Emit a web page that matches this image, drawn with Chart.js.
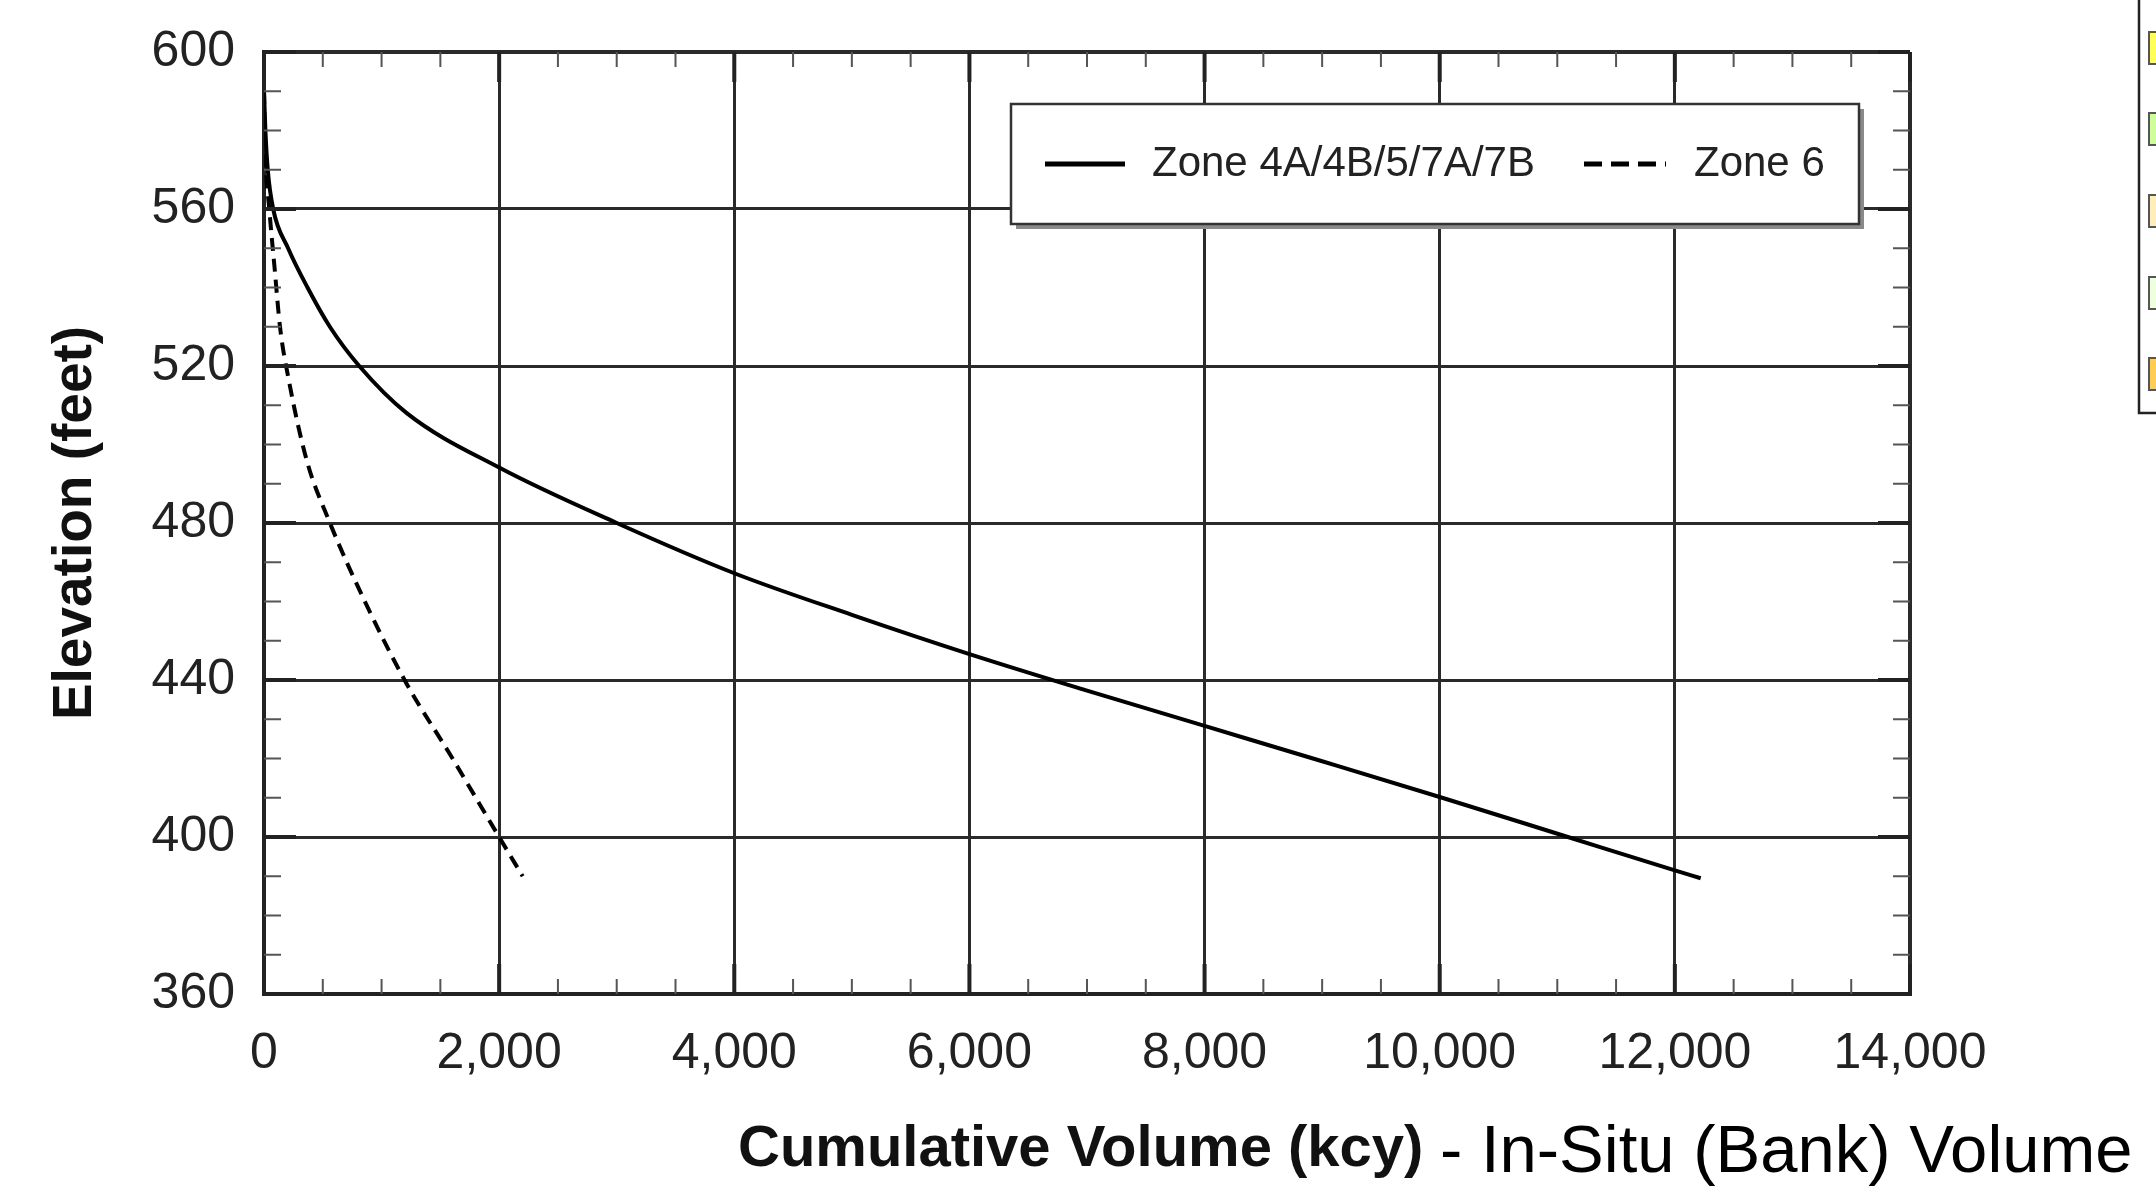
<!DOCTYPE html>
<html>
<head>
<meta charset="utf-8">
<script src="https://cdn.jsdelivr.net/npm/chart.js@4.4.1/dist/chart.umd.min.js"></script>
<style>
	body { margin: 0; background: #fff; }
	#wrap { width: 2156px; height: 1204px; }
</style>
</head>
<body>
<div id="wrap"><canvas id="chart" width="2156" height="1204"></canvas></div>
<script>
// cumulative volume (kcy) vs elevation (feet)
const zoneAVolume = [0, 12, 32, 78, 205, 370, 560, 810, 1214, 2008, 3000, 4000, 5000, 6000, 7000, 8000, 9000, 10000, 11090, 12000, 12220]
const zoneAElev = [590, 580, 570, 560, 550, 540, 530, 520, 508, 494, 480, 467.2, 456.6, 446.6, 437.3, 428.3, 419.3, 410.2, 400, 391.5, 389.5]
const zone6Volume = [0, 10, 45, 90, 136, 207, 363, 547, 874, 1214, 1583, 2000, 2200]
const zone6Elev = [590, 575, 560, 545, 530, 517, 496, 481, 459, 439, 421, 400, 390]

const seriesNames = ["Zone 4A/4B/5/7A/7B", "Zone 6"]
const xTicks = [0, 2000, 4000, 6000, 8000, 10000, 12000, 14000]
const yTicks = [360, 400, 440, 480, 520, 560, 600]
const sideColors = ["#ffff55", "#ccff99", "#ffeebb", "#eeffdd", "#ffcc55"]

const FONT = "'Liberation Sans', Arial, sans-serif"

const toPoints = (xs, ys) => xs.map((x, i) => ({x: x, y: ys[i]}))

const extras = {
	id: "extras",
	beforeDraw(chart) {
		const ctx = chart.ctx
		ctx.save()
		ctx.fillStyle = "#fff"
		ctx.fillRect(0, 0, chart.width, chart.height)
		ctx.restore()
	},
	afterDraw(chart) {
		const ctx = chart.ctx
		const xs = chart.scales.x, ys = chart.scales.y
		const a = chart.chartArea
		ctx.save()

		// minor ticks, inward on all four sides
		ctx.strokeStyle = "#555"
		ctx.lineWidth = 2
		ctx.beginPath()
		for (let v = xTicks[0]; v < xTicks[xTicks.length - 1]; v += 500) {
			if (v % 2000 == 0) continue
			const px = xs.getPixelForValue(v)
			ctx.moveTo(px, a.bottom); ctx.lineTo(px, a.bottom - 15)
			ctx.moveTo(px, a.top); ctx.lineTo(px, a.top + 15)
		}
		for (let v = yTicks[0]; v < yTicks[yTicks.length - 1]; v += 10) {
			if (v % 40 == 0) continue
			const py = ys.getPixelForValue(v)
			ctx.moveTo(a.left, py); ctx.lineTo(a.left + 17, py)
			ctx.moveTo(a.right, py); ctx.lineTo(a.right - 17, py)
		}
		ctx.stroke()

		// heavier major ticks
		ctx.strokeStyle = "#222"
		ctx.lineWidth = 4
		ctx.beginPath()
		xTicks.forEach(v => {
			const px = xs.getPixelForValue(v)
			ctx.moveTo(px, a.bottom); ctx.lineTo(px, a.bottom - 30)
			ctx.moveTo(px, a.top); ctx.lineTo(px, a.top + 30)
		})
		yTicks.forEach(v => {
			const py = ys.getPixelForValue(v)
			ctx.moveTo(a.left, py); ctx.lineTo(a.left + 32, py)
			ctx.moveTo(a.right, py); ctx.lineTo(a.right - 32, py)
		})
		ctx.stroke()

		// legend box
		const lx = 1011, ly = 104, lw = 848, lh = 120
		ctx.fillStyle = "#8a8a8a"
		ctx.fillRect(lx + 5, ly + 5, lw, lh)
		ctx.fillStyle = "#fff"
		ctx.fillRect(lx, ly, lw, lh)
		ctx.strokeStyle = "#333"
		ctx.lineWidth = 2.5
		ctx.strokeRect(lx, ly, lw, lh)

		const my = ly + lh / 2
		ctx.strokeStyle = "#000"
		ctx.lineWidth = 5
		ctx.beginPath(); ctx.moveTo(1045, my); ctx.lineTo(1125, my); ctx.stroke()
		ctx.setLineDash([18, 9])
		ctx.beginPath(); ctx.moveTo(1584, my); ctx.lineTo(1666, my); ctx.stroke()
		ctx.setLineDash([])
		ctx.fillStyle = "#222"
		ctx.font = "42px " + FONT
		ctx.textBaseline = "middle"
		ctx.textAlign = "left"
		ctx.fillText(seriesNames[0], 1152, my)
		ctx.fillText(seriesNames[1], 1694, my)

		// x axis title, bold part + plain part
		ctx.textBaseline = "alphabetic"
		ctx.fillStyle = "#111"
		ctx.font = "bold 58px " + FONT
		ctx.fillText("Cumulative Volume (kcy)", 738, 1166)
		ctx.fillStyle = "#000"
		ctx.font = "67px " + FONT
		ctx.fillText("- In-Situ (Bank) Volume", 1440, 1172)

		// clipped legend of the neighbouring figure
		ctx.strokeStyle = "#222"
		ctx.lineWidth = 2.5
		ctx.beginPath()
		ctx.moveTo(2139, 0); ctx.lineTo(2139, 413); ctx.lineTo(2160, 413)
		ctx.stroke()
		const boxTops = [32, 113, 195, 277, 358]
		ctx.lineWidth = 2
		ctx.strokeStyle = "#555"
		boxTops.forEach((t, i) => {
			ctx.fillStyle = sideColors[i]
			ctx.fillRect(2149, t, 14, 32)
			ctx.strokeRect(2149, t, 14, 32)
		})
		ctx.restore()
	}
}

const gridWidth = (edge) => (c) => (c.tick && c.tick.value === edge) ? 4 : 3

new Chart(document.getElementById("chart"), {
	type: "line",
	data: {
		datasets: [{
			label: seriesNames[0],
			data: toPoints(zoneAVolume, zoneAElev),
			borderColor: "#000",
			borderWidth: 4,
			pointRadius: 0,
			cubicInterpolationMode: "monotone"
		}, {
			label: seriesNames[1],
			data: toPoints(zone6Volume, zone6Elev),
			borderColor: "#000",
			borderWidth: 4,
			borderDash: [13, 8],
			pointRadius: 0,
			cubicInterpolationMode: "monotone"
		}]
	},
	options: {
		responsive: false,
		animation: false,
		layout: { padding: { top: 52, right: 246, left: 0, bottom: 0 } },
		plugins: {
			legend: { display: false },
			tooltip: { enabled: false }
		},
		scales: {
			x: {
				type: "linear",
				min: 0,
				max: 14000,
				afterBuildTicks: (s) => { s.ticks = xTicks.map(v => ({value: v})) },
				afterFit: (s) => { s.height = 210 },
				grid: { color: "#2a2a2a", lineWidth: gridWidth(14000), drawTicks: false },
				border: { color: "#222", width: 4 },
				ticks: {
					padding: 30,
					color: "#222",
					font: { family: FONT, size: 50 },
					maxRotation: 0,
					callback: (v) => v.toLocaleString("en-US")
				}
			},
			y: {
				type: "linear",
				min: 360,
				max: 600,
				afterBuildTicks: (s) => { s.ticks = yTicks.map(v => ({value: v})) },
				afterFit: (s) => { s.width = 264 },
				grid: { color: "#2a2a2a", lineWidth: gridWidth(600), drawTicks: false },
				border: { color: "#222", width: 4 },
				ticks: {
					padding: 29,
					color: "#222",
					font: { family: FONT, size: 50, lineHeight: 0.8 }
				},
				title: {
					display: true,
					text: "Elevation (feet)",
					color: "#111",
					font: { family: FONT, size: 55, weight: "bold" },
					padding: { top: 43, bottom: 0 }
				}
			}
		}
	},
	plugins: [extras]
})
</script>
</body>
</html>
